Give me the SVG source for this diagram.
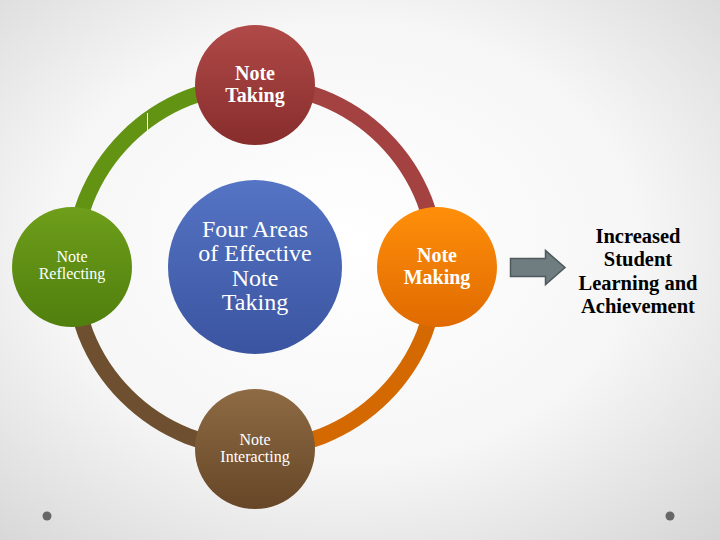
<svg xmlns="http://www.w3.org/2000/svg" width="720" height="540" viewBox="0 0 720 540">
<defs>
<radialGradient id="bg" cx="0.48" cy="0.45" r="0.75">
<stop offset="0" stop-color="#ffffff"/>
<stop offset="0.55" stop-color="#f6f6f6"/>
<stop offset="1" stop-color="#d6d6d6"/>
</radialGradient>
<linearGradient id="gRed" x1="0" y1="0" x2="0" y2="1"><stop offset="0" stop-color="#b04a48"/><stop offset="1" stop-color="#872d2c"/></linearGradient>
<linearGradient id="gGreen" x1="0" y1="0" x2="0" y2="1"><stop offset="0" stop-color="#6e9e1a"/><stop offset="1" stop-color="#507f0e"/></linearGradient>
<linearGradient id="gBlue" x1="0" y1="0" x2="0" y2="1"><stop offset="0" stop-color="#5574c4"/><stop offset="1" stop-color="#3a54a0"/></linearGradient>
<linearGradient id="gOrange" x1="0" y1="0" x2="0" y2="1"><stop offset="0" stop-color="#ff8f0a"/><stop offset="1" stop-color="#e06a00"/></linearGradient>
<linearGradient id="gBrown" x1="0" y1="0" x2="0" y2="1"><stop offset="0" stop-color="#8e6b44"/><stop offset="1" stop-color="#664627"/></linearGradient>
</defs>
<style>
.arc{fill:none;stroke-width:16}
.lbl{font-family:"Liberation Serif","Times New Roman",serif;fill:#ffffff;text-anchor:middle}
.b{font-weight:bold}
.out{font-family:"Liberation Serif","Times New Roman",serif;font-weight:bold;fill:#000000;text-anchor:middle;font-size:20.5px}
</style>
<rect width="720" height="540" fill="url(#bg)"/>
<circle cx="47" cy="516" r="4.5" fill="#666666"/>
<circle cx="670" cy="516" r="4.5" fill="#666666"/>
<g id="connectors">
<path class="arc" d="M73 267 A182 182 0 0 1 255 85" stroke="#629312"/>
<path class="arc" d="M255 85 A182 182 0 0 1 437 267" stroke="#a44241"/>
<path class="arc" d="M437 267 A182 182 0 0 1 255 449" stroke="#d36900"/>
<path class="arc" d="M255 449 A182 182 0 0 1 73 267" stroke="#6e4f2f"/>
<line x1="147.5" y1="113" x2="147.5" y2="135" stroke="#ffffff" stroke-width="1"/>
<path id="arrow" d="M510.5 258.5 H545.5 V250.5 L565 267.5 L545.5 284.5 V276.5 H510.5 Z" fill="#6f7c80" stroke="#4f5a5e" stroke-width="1.5"/>
</g>
<g id="taking">
<circle cx="255" cy="85" r="60" fill="url(#gRed)"/>
<text class="lbl b" x="255" y="80" font-size="20">Note</text>
<text class="lbl b" x="255" y="102" font-size="20">Taking</text>
</g>
<g id="reflecting">
<circle cx="72" cy="267" r="60" fill="url(#gGreen)"/>
<text class="lbl" x="72" y="262" font-size="16">Note</text>
<text class="lbl" x="72" y="279" font-size="16">Reflecting</text>
</g>
<g id="center">
<circle cx="255" cy="267" r="87" fill="url(#gBlue)"/>
<text class="lbl" x="255" y="237" font-size="24">Four Areas</text>
<text class="lbl" x="255" y="261" font-size="24">of Effective</text>
<text class="lbl" x="255" y="286" font-size="24">Note</text>
<text class="lbl" x="255" y="310" font-size="24">Taking</text>
</g>
<g id="making">
<circle cx="437" cy="267" r="60" fill="url(#gOrange)"/>
<text class="lbl b" x="437" y="262" font-size="20">Note</text>
<text class="lbl b" x="437" y="284" font-size="20">Making</text>
</g>
<g id="interacting">
<circle cx="255" cy="449" r="60" fill="url(#gBrown)"/>
<text class="lbl" x="255" y="445" font-size="16">Note</text>
<text class="lbl" x="255" y="462" font-size="16">Interacting</text>
</g>
<g id="outcome">
<text class="out" x="638" y="243">Increased</text>
<text class="out" x="638" y="266">Student</text>
<text class="out" x="638" y="290">Learning and</text>
<text class="out" x="638" y="313">Achievement</text>
</g>
</svg>
